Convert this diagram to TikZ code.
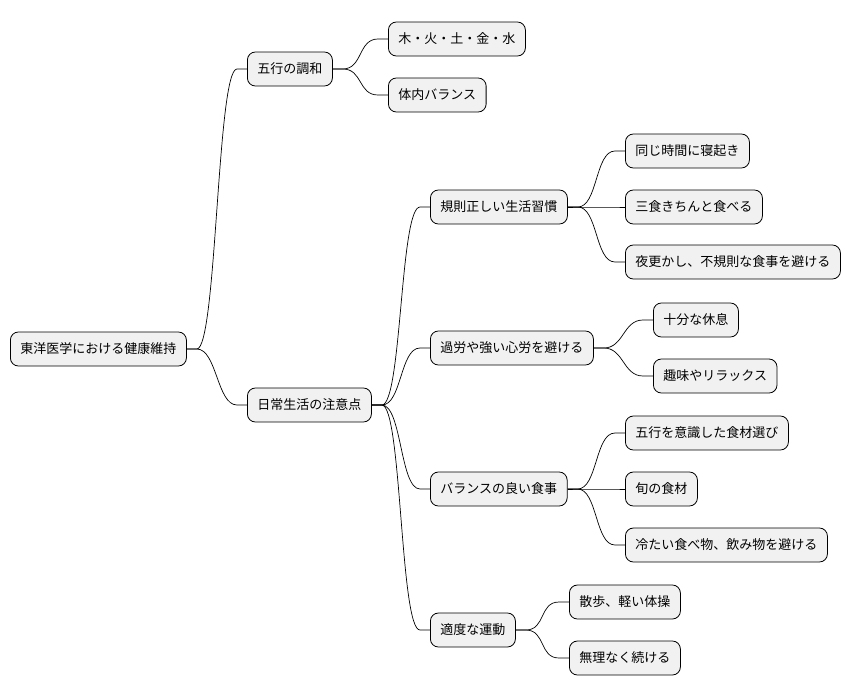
\documentclass[tikz,border=0pt]{standalone}
\usepackage{fontspec}
\setmainfont{Noto Sans CJK JP}
\definecolor{nodefill}{HTML}{F1F1F1}
\begin{document}
\begin{tikzpicture}[x=1pt,y=-1pt,
  box/.style={draw=black,fill=nodefill,rounded corners=8pt,line width=0.8pt,
    minimum height=34pt,inner xsep=10pt,font=\fontsize{13}{15}\selectfont,anchor=west},
  link/.style={line width=0.7pt}]
\useasboundingbox (0,0) rectangle (866,696);
\node[box] (root) at (10,349) {東洋医学における健康維持};
\node[box] (a) at (247,69) {五行の調和};
\node[box] (a1) at (388,39) {木・火・土・金・水};
\node[box] (a2) at (388,95) {体内バランス};
\node[box] (b) at (247,405) {日常生活の注意点};
\node[box] (b1) at (430,207) {規則正しい生活習慣};
\node[box] (b11) at (625,151) {同じ時間に寝起き};
\node[box] (b12) at (625,207) {三食きちんと食べる};
\node[box] (b13) at (625,262) {夜更かし、不規則な食事を避ける};
\node[box] (b2) at (430,348) {過労や強い心労を避ける};
\node[box] (b21) at (653,320) {十分な休息};
\node[box] (b22) at (653,376) {趣味やリラックス};
\node[box] (b3) at (430,489) {バランスの良い食事};
\node[box] (b31) at (625,433) {五行を意識した食材選び};
\node[box] (b32) at (625,489) {旬の食材};
\node[box] (b33) at (625,545) {冷たい食べ物、飲み物を避ける};
\node[box] (b4) at (430,630) {適度な運動};
\node[box] (b41) at (569,602) {散歩、軽い体操};
\node[box] (b42) at (569,658) {無理なく続ける};
\foreach \p/\c in {root/a,root/b,a/a1,a/a2,b/b1,b/b2,b/b3,b/b4,b1/b11,b1/b12,b1/b13,b2/b21,b2/b22,b3/b31,b3/b32,b3/b33,b4/b41,b4/b42}
  \draw[link] (\p.east) -- ++(10,0) .. controls +(20,0) and +(-20,0) .. ([xshift=-10pt]\c.west) -- (\c.west);
\end{tikzpicture}
\end{document}
